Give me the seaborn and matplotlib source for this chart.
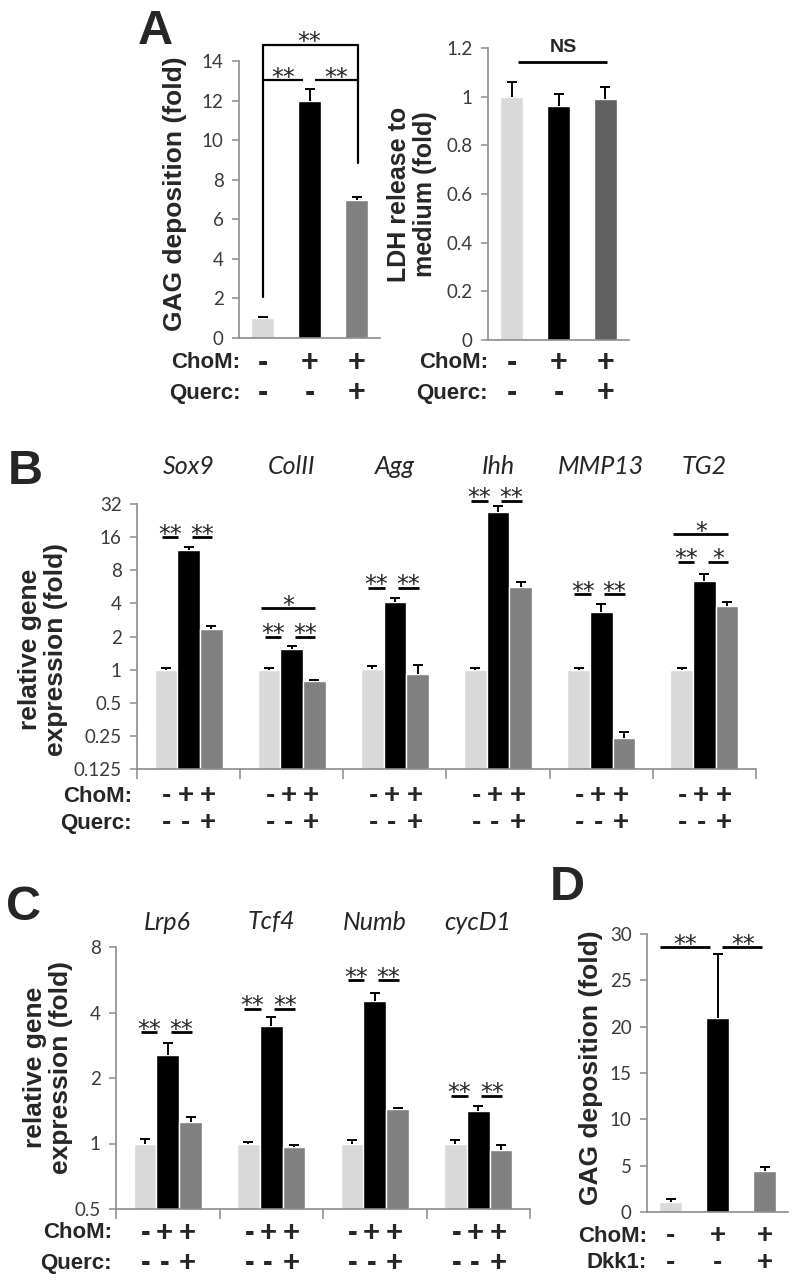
import numpy as np
import pandas as pd
import seaborn as sns
import matplotlib.pyplot as plt
from matplotlib.transforms import blended_transform_factory as blend

# --- data ---
conditions = ['ctrl', 'ChoM', 'ChoM+Querc']

# panel A: GAG deposition and LDH release
gag_a = [1.0, 12.0, 7.0]
gag_a_err = [0.05, 0.6, 0.15]
ldh_a = [1.0, 0.96, 0.99]
ldh_a_err = [0.06, 0.05, 0.05]

# panel B: chondrogenic genes (log2 axis)
genes_b = ['Sox9', 'ColII', 'Agg', 'Ihh', 'MMP13', 'TG2']
b_ctrl = [0.99, 0.99, 1.02, 0.99, 0.99, 0.99]
b_chom = [12.1, 1.55, 4.1, 27.3, 3.37, 6.45]
b_querc = [2.36, 0.78, 0.92, 5.6, 0.24, 3.82]
b_ctrl_err = [0.04, 0.04, 0.06, 0.04, 0.04, 0.04]
b_chom_err = [0.8, 0.1, 0.4, 3.7, 0.6, 1.0]
b_querc_err = [0.14, 0.02, 0.18, 0.7, 0.03, 0.3]

# panel C: Wnt genes (log2 axis)
genes_c = ['Lrp6', 'Tcf4', 'Numb', 'cycD1']
c_ctrl = [1.0, 1.0, 1.0, 1.0]
c_chom = [2.55, 3.45, 4.5, 1.41]
c_querc = [1.26, 0.96, 1.44, 0.93]
c_ctrl_err = [0.05, 0.02, 0.04, 0.04]
c_chom_err = [0.35, 0.35, 0.4, 0.08]
c_querc_err = [0.07, 0.02, 0.01, 0.05]

# panel D: GAG deposition with Dkk1
gag_d = [1.1, 20.9, 4.4]
gag_d_err = [0.3, 6.9, 0.5]

# significance marks
b_pair_y = [15.9, 2.0, 5.57, 34.4, 4.9, 9.6]
b_pair_lab = [('**', '**'), ('**', '**'), ('**', '**'), ('**', '**'), ('**', '**'), ('**', '*')]
b_span = {1: (3.6, '*'), 5: (17.2, '*')}
c_pair_y = [3.24, 4.17, 5.66, 1.66]

# treatment rows
chom_row = ['-', '+', '+']
querc_row = ['-', '-', '+']

# --- style ---
sns.set_theme(style='white')
plt.rcParams['font.family'] = ['Lato', 'DejaVu Sans']
BOLD = 'Liberation Sans'
light, dark, mid, mid2 = '#d9d9d9', '#000000', '#808080', '#606060'
axis_grey = '#8c8c8c'

W, H = 798.0, 1284.0
fig = plt.figure(figsize=(W / 100, H / 100), dpi=100)


def add_axes(x0, y0, x1, y1):
    return fig.add_axes([x0 / W, 1 - y1 / H, (x1 - x0) / W, (y1 - y0) / H])


def style(ax, ticks=False):
    sns.despine(ax=ax)
    for s in ['left', 'bottom']:
        ax.spines[s].set_color(axis_grey)
        ax.spines[s].set_linewidth(1.2)
    ax.tick_params(axis='y', left=True, direction='out', length=5, width=1.1,
                   color=axis_grey, labelsize=13.5, labelcolor='#3a3a3a', pad=6)
    if ticks:
        ax.tick_params(axis='x', bottom=True, direction='out', length=7, width=1.1,
                       color=axis_grey, labelbottom=False)
    else:
        ax.tick_params(axis='x', bottom=False, labelbottom=False)
    ax.set_xlabel('')
    ax.set_ylabel('')


def add_errs(ax, errs):
    # upper half error bars only, like the original
    xs = [b.get_x() + b.get_width() / 2 for b in ax.patches]
    ys = [b.get_height() for b in ax.patches]
    _, caps, _ = ax.errorbar(xs, ys, yerr=[np.zeros(len(errs)), errs], fmt='none',
                             ecolor='black', elinewidth=1.4, capsize=3.5, capthick=1.4,
                             clip_on=False)
    caps[0].set_visible(False)


def single_bars(ax, vals, errs, colors):
    sns.barplot(x=conditions, y=vals, hue=conditions, palette=colors, width=0.5,
                saturation=1, errorbar=None, legend=False, ax=ax)
    add_errs(ax, errs)
    ax.set_xlim(-0.5, 2.5)


def grouped_bars(ax, genes, ctrl, chom, querc, errs):
    df = pd.DataFrame({'gene': genes * 3,
                       'cond': np.repeat(conditions, len(genes)),
                       'val': ctrl + chom + querc})
    sns.barplot(data=df, x='gene', y='val', hue='cond', palette=[light, dark, mid],
                width=0.66, gap=0, saturation=1, errorbar=None, legend=False, ax=ax)
    ax.set_yscale('log', base=2)
    add_errs(ax, errs)
    ax.set_xlim(-0.5, len(genes) - 0.5)
    ax.set_xticks(np.arange(-0.5, len(genes), 1))
    ax.yaxis.set_minor_locator(plt.NullLocator())


def log_ticks(ax, vals):
    ax.set_ylim(vals[0], vals[-1])
    ax.set_yticks(vals)
    ax.set_yticklabels([('%g' % v) for v in vals])


def rows(ax, names, symbols, xs, ys, lab_x=0.0, sym_fs=21):
    tr_l = blend(ax.transAxes, fig.transFigure)
    tr_s = blend(ax.transData, fig.transFigure)
    for name, syms, y in zip(names, symbols, ys):
        fig.text(lab_x, 1 - y / H, name, transform=tr_l, ha='right', va='center',
                 fontsize=16, fontweight='bold', family=BOLD)
        for x, s in zip(xs, syms):
            fig.text(x, 1 - y / H, s, transform=tr_s, ha='center', va='center',
                     fontsize=sym_fs, fontweight='bold', family=BOLD)


def line(ax, x0, x1, y, lw=2.0):
    ax.plot([x0, x1], [y, y], color='black', lw=lw, clip_on=False, solid_capstyle='butt')


def star(ax, x, y, s, dy=-3.5, fs=17):
    ax.annotate(s, xy=(x, y), xytext=(0, dy), textcoords='offset points', ha='center',
                va='baseline', fontsize=fs, family='DejaVu Sans', annotation_clip=False)


def panel_letter(x, y, s):
    fig.text(x / W, 1 - y / H, s, ha='center', va='center', fontsize=35,
             fontweight='bold', family=BOLD)


def ylabel(ax, text, x, y, fs):
    ax.set_ylabel(text, fontsize=fs, fontweight='bold', family=BOLD, linespacing=1.1)
    ax.yaxis.set_label_coords(x, y)


# ---------------- A left ----------------
ax = add_axes(239, 61, 380, 338)
single_bars(ax, gag_a, gag_a_err, [light, dark, mid])
ax.set_ylim(0, 14)
ax.set_yticks(range(0, 15, 2))
style(ax)
ylabel(ax, 'GAG deposition (fold)', -0.37, 0.52, 19)
# brackets
ax.plot([0.01, 0.01, 2.03, 2.03], [2.07, 14.8, 14.8, 8.84], color='black', lw=1.6, clip_on=False)
line(ax, 0.01, 0.86, 13.04, 1.6)
line(ax, 1.12, 2.01, 13.04, 1.6)
star(ax, 0.44, 13.04, '**')
star(ax, 1.57, 13.04, '**')
star(ax, 1.0, 14.8, '**', dy=-3)
rows(ax, ['ChoM:', 'Querc:'], [chom_row, querc_row], [0, 1, 2], [363, 393], lab_x=0.01, sym_fs=22)

# ---------------- A right ----------------
ax = add_axes(488, 48, 629, 340)
single_bars(ax, ldh_a, ldh_a_err, [light, dark, mid2])
ax.set_ylim(0, 1.2)
ax.set_yticks([0, 0.2, 0.4, 0.6, 0.8, 1.0, 1.2])
ax.set_yticklabels(['0', '0.2', '0.4', '0.6', '0.8', '1', '1.2'])
style(ax)
ylabel(ax, 'LDH release to\nmedium (fold)', -0.36, 0.5, 18)
line(ax, 0.14, 2.03, 1.143, 2.0)
ax.text(1.1, 1.2, 'NS', ha='center', va='center', fontsize=14, fontweight='bold',
        family=BOLD, clip_on=False)
rows(ax, ['ChoM:', 'Querc:'], [chom_row, querc_row], [0, 1, 2], [363, 393], sym_fs=22)

panel_letter(155, 31, 'A')

# ---------------- B ----------------
ax = add_axes(137, 504, 756, 769)
grouped_bars(ax, genes_b, b_ctrl, b_chom, b_querc, b_ctrl_err + b_chom_err + b_querc_err)
log_ticks(ax, [0.125, 0.25, 0.5, 1, 2, 4, 8, 16, 32])
style(ax, ticks=True)
ylabel(ax, 'relative gene\nexpression (fold)', -0.111, 0.45, 19)
for i, g in enumerate(genes_b):
    ax.text(i, 1 - 466 / H, g, transform=blend(ax.transData, fig.transFigure),
            ha='center', va='center', fontsize=18, style='italic')
    y = b_pair_y[i]
    line(ax, i - 0.26, i - 0.10, y)
    line(ax, i + 0.03, i + 0.23, y)
    star(ax, i - 0.18, y, b_pair_lab[i][0])
    star(ax, i + 0.13, y, b_pair_lab[i][1])
    if i in b_span:
        ys, lab = b_span[i]
        line(ax, i - 0.30, i + 0.23, ys)
        star(ax, i - 0.03, ys, lab)
xs_b = [i + d for i in range(len(genes_b)) for d in (-0.21, -0.03, 0.19)]
rows(ax, ['ChoM:', 'Querc:'], [chom_row * 6, querc_row * 6], xs_b, [796, 823],
     lab_x=-0.008, sym_fs=20)
panel_letter(25, 471, 'B')

# ---------------- C ----------------
ax = add_axes(116, 947, 530, 1209)
grouped_bars(ax, genes_c, c_ctrl, c_chom, c_querc, c_ctrl_err + c_chom_err + c_querc_err)
log_ticks(ax, [0.5, 1, 2, 4, 8])
style(ax, ticks=True)
ylabel(ax, 'relative gene\nexpression (fold)', -0.105, 0.54, 19)
for i, g in enumerate(genes_c):
    ax.text(i, 1 - 922 / H, g, transform=blend(ax.transData, fig.transFigure),
            ha='center', va='center', fontsize=18, style='italic')
    y = c_pair_y[i]
    line(ax, i - 0.26, i - 0.10, y)
    line(ax, i + 0.03, i + 0.23, y)
    star(ax, i - 0.18, y, '**')
    star(ax, i + 0.13, y, '**')
xs_c = [i + d for i in range(len(genes_c)) for d in (-0.21, -0.03, 0.19)]
rows(ax, ['ChoM:', 'Querc:'], [chom_row * 4, querc_row * 4], xs_c, [1233, 1263], lab_x=-0.01)
panel_letter(23, 908, 'C')

# ---------------- D ----------------
ax = add_axes(647, 934, 788, 1212)
single_bars(ax, gag_d, gag_d_err, [light, dark, mid])
ax.set_ylim(0, 30)
ax.set_yticks(range(0, 31, 5))
style(ax)
ylabel(ax, 'GAG deposition (fold)', -0.31, 0.52, 19)
line(ax, -0.22, 0.85, 28.6)
line(ax, 1.10, 1.95, 28.6)
star(ax, 0.31, 28.6, '**')
star(ax, 1.54, 28.6, '**')
rows(ax, ['ChoM:', 'Dkk1:'], [chom_row, querc_row], [0, 1, 2], [1236, 1263], sym_fs=20)
panel_letter(567, 888, 'D')

fig.savefig('out.png', dpi=100, facecolor='white')
